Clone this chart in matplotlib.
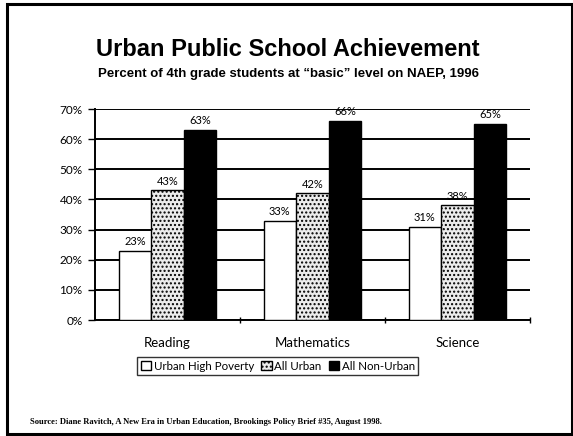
import matplotlib
matplotlib.use("Agg")
import matplotlib.pyplot as plt
from matplotlib.patches import Rectangle
import numpy as np

# data
subjects = ["Reading", "Mathematics", "Science"]
groups = ["Urban High Poverty", "All Urban", "All Non-Urban"]
high_poverty = [23, 33, 31]
all_urban = [43, 42, 38]
non_urban = [63, 66, 65]
yticks = [0, 10, 20, 30, 40, 50, 60, 70]

plt.rcParams["hatch.linewidth"] = 1.0
plt.rcParams["hatch.color"] = "#444444"

fig = plt.figure(figsize=(5.73, 4.36), dpi=100)
fig.patch.set_facecolor("white")

# slide frame
fig.add_artist(Rectangle((7 / 573, 2 / 436), 565 / 573, 430 / 436,
                         transform=fig.transFigure, fill=False,
                         edgecolor="black", linewidth=2.2))

fig.text(0.503, 1 - 50 / 436, "Urban Public School Achievement", ha="center", va="center",
         fontsize=17, fontweight="bold", family="Liberation Sans")
fig.text(0.503, 1 - 74 / 436, "Percent of 4th grade students at \u201cbasic\u201d level on NAEP, 1996",
         ha="center", va="center", fontsize=9.5, fontweight="bold", family="Liberation Sans")

ax = fig.add_axes([95 / 573, 1 - 320 / 436, 435 / 573, 211 / 436])

x = np.arange(len(subjects))
w = 0.225
styles = [
    dict(facecolor="white", hatch=None),
    dict(facecolor="#ececec", hatch="...."),
    dict(facecolor="black", hatch=None),
]
series = [high_poverty, all_urban, non_urban]
bars_all = []
for i, (vals, st) in enumerate(zip(series, styles)):
    bars = ax.bar(x + (i - 1) * w, vals, w, facecolor=st["facecolor"], hatch=st["hatch"],
                  edgecolor="black", linewidth=1.0, zorder=3, label=groups[i])
    bars_all.append(bars)
    for b, v in zip(bars, vals):
        ax.text(b.get_x() + b.get_width() / 2, v + 1.2, f"{v}%", ha="center", va="bottom",
                fontsize=8, family="Lato", zorder=4)

ax.set_xlim(-0.5, 2.5)
ax.set_ylim(0, 70)
ax.set_yticks(yticks)
ax.set_yticklabels([f"{t}%" for t in yticks], fontsize=8.5, family="Lato")
ax.yaxis.grid(True, color="black", linewidth=1.4, zorder=0)
ax.set_axisbelow(True)

ax.set_xticks(x)
ax.set_xticklabels(subjects, fontsize=9.5, family="Lato")
ax.tick_params(axis="x", length=0, pad=12)
ax.set_xticks([0.5, 1.5, 2.5], minor=True)
ax.tick_params(axis="x", which="minor", length=4, direction="inout", width=1)
ax.tick_params(axis="y", length=5, width=1, direction="out", pad=4)

for s in ["top", "right"]:
    ax.spines[s].set_visible(False)
ax.spines["left"].set_linewidth(1.4)
ax.spines["bottom"].set_linewidth(1.4)

leg = fig.legend(handles=bars_all, labels=groups, loc="center", bbox_to_anchor=(0.485, 1 - 366 / 436),
                 ncol=3, frameon=True, fancybox=False, edgecolor="black",
                 prop={"family": "Lato", "size": 8.3}, handlelength=0.9, handleheight=0.9,
                 handletextpad=0.25, columnspacing=0.6, borderpad=0.3, borderaxespad=0)
leg.get_frame().set_linewidth(1.0)

fig.text(30 / 573, 1 - 422 / 436,
         "Source: Diane Ravitch, A New Era in Urban Education, Brookings Policy Brief #35, August 1998.",
         ha="left", va="center", fontsize=6.1, fontweight="bold", family="Liberation Serif")

fig.savefig("out.png", dpi=100, facecolor="white")
